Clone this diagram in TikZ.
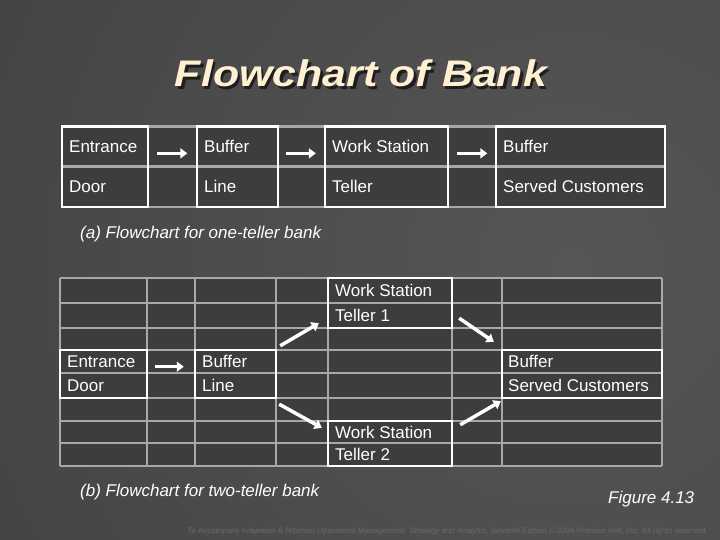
\documentclass[tikz,border=0pt]{standalone}
\usepackage{fontspec}
\setmainfont{Liberation Sans}
\newfontfamily\titlefont[FakeStretch=1.16]{Liberation Sans}
\usetikzlibrary{arrows.meta,calc}
\definecolor{bgin}{HTML}{565656}
\definecolor{bgout}{HTML}{363636}
\definecolor{cellfill}{HTML}{3D3D3D}
\definecolor{gridgray}{HTML}{A8A8A8}
\definecolor{titlecol}{RGB}{255,240,210}
\definecolor{shadowcol}{HTML}{1E1E1E}
\definecolor{footcol}{HTML}{6A6A6A}
\begin{document}
\begin{tikzpicture}[x=1pt,y=-1pt,
  wbox/.style={draw=white, line width=2.4pt, fill=none, inner sep=0pt, rectangle},
  gridline/.style={draw=gridgray, line width=2.2pt},
  celltext/.style={anchor=base west, inner sep=0pt, text=white, font=\fontsize{17}{19}\selectfont},
  arr/.style={draw=white, line width=3.5pt, -{Triangle[length=7pt,width=10pt]}},
  label/.style={anchor=base west, inner sep=0pt, text=white, font=\fontsize{17}{19}\selectfont\itshape}]
% background
\useasboundingbox (0,0) rectangle (720,540);
\fill[bgout] (0,0) rectangle (720,540);
\begin{scope}
\clip (0,0) rectangle (720,540);
\shade[inner color=bgin, outer color=bgout] (570,270) circle (1150);
\end{scope}
% title with shadow
\node[anchor=base, inner sep=0pt, text=shadowcol, font=\titlefont\fontsize{37}{40}\selectfont\bfseries\itshape] (titleshadow) at (363.5,89.5) {Flowchart of Bank};
\node[anchor=base, inner sep=0pt, text=titlecol, font=\titlefont\fontsize{37}{40}\selectfont\bfseries\itshape] (title) at (361,87) {Flowchart of Bank};
% ---------- table (a)
\fill[cellfill] (62,126.5) rectangle (665,207);
\draw[gridline] (62,126.5) rectangle (665,207);
\draw[gridline] (62,166.5) -- (665,166.5);
\node[wbox, minimum width=86pt, minimum height=80.5pt] (entA) at (105,166.75) {};
\node[wbox, minimum width=81pt, minimum height=80.5pt] (bufA) at (237.5,166.75) {};
\node[wbox, minimum width=123pt, minimum height=80.5pt] (wsA) at (386.5,166.75) {};
\node[wbox, minimum width=169pt, minimum height=80.5pt] (srvA) at (580.5,166.75) {};
\node[celltext] (tA1) at (69,152.5) {Entrance};
\node[celltext] (tA2) at (69,192.8) {Door};
\node[celltext] (tA3) at (204,152.5) {Buffer};
\node[celltext] (tA4) at (204,192.8) {Line};
\node[celltext] (tA5) at (332,152.5) {Work Station};
\node[celltext] (tA6) at (332,192.8) {Teller};
\node[celltext] (tA7) at (503,152.5) {Buffer};
\node[celltext] (tA8) at (503,192.8) {Served Customers};
\draw[arr] ($(entA.east)+(8,-13.4)$) -- ($(bufA.west)+(-8.5,-13.4)$);
\draw[arr] ($(bufA.east)+(7,-13.4)$) -- ($(wsA.west)+(-8,-13.4)$);
\draw[arr] ($(wsA.east)+(8,-13.4)$) -- ($(srvA.west)+(-7.5,-13.4)$);
\node[label] (labA) at (80,239) {(a) Flowchart for one-teller bank};
% ---------- table (b)
\fill[cellfill] (60,278) rectangle (662,466);
\foreach \gx in {60,147,195,276,328,452,502,662}
  \draw[gridline] (\gx,278) -- (\gx,466);
\foreach \gy in {278,303,328,350,373,398,421,443,466}
  \draw[gridline] (60,\gy) -- (662,\gy);
\node[wbox, minimum width=124pt, minimum height=50pt] (wsB1) at (390,303) {};
\node[wbox, minimum width=87pt, minimum height=48pt] (entB) at (103.5,374) {};
\node[wbox, minimum width=81pt, minimum height=48pt] (bufB) at (235.5,374) {};
\node[wbox, minimum width=160pt, minimum height=48pt] (srvB) at (582,374) {};
\node[wbox, minimum width=124pt, minimum height=45pt] (wsB2) at (390,443.5) {};
\node[celltext] (tB1) at (335,296.5) {Work Station};
\node[celltext] (tB2) at (335,321.5) {Teller 1};
\node[celltext] (tB3) at (67,367.5) {Entrance};
\node[celltext] (tB4) at (67,391.5) {Door};
\node[celltext] (tB5) at (202,367.5) {Buffer};
\node[celltext] (tB6) at (202,391.5) {Line};
\node[celltext] (tB7) at (508,367.5) {Buffer};
\node[celltext] (tB8) at (508,391.5) {Served Customers};
\node[celltext] (tB9) at (335,438) {Work Station};
\node[celltext] (tB10) at (335,460.5) {Teller 2};
\draw[arr] ($(entB.east)+(7,-7.3)$) -- ($(bufB.west)+(-10,-7.3)$);
\draw[arr] ($(bufB.north east)+(3,-3)$) -- ($(wsB1.south west)+(-8,-6)$);
\draw[arr] ($(wsB1.south east)+(6,-11)$) -- ($(srvB.north west)+(-7,-7)$);
\draw[arr] ($(bufB.south east)+(2,5)$) -- ($(wsB2.north west)+(-5,8)$);
\draw[arr] ($(wsB2.north east)+(7,5)$) -- ($(srvB.south west)+(0,2)$);
\node[label] (labB) at (80,496) {(b) Flowchart for two-teller bank};
\node[label] (fig) at (608,503) {Figure 4.13};
% footer
\node[anchor=base east, inner sep=0pt, text=footcol, font=\fontsize{7.95}{9}\selectfont] (foot) at (708,533) {To Accompany Krajewski \& Ritzman \textit{Operations Management: Strategy and Analysis, Seventh Edition} © 2004 Prentice Hall, Inc. All rights reserved.};
\end{tikzpicture}
\end{document}
